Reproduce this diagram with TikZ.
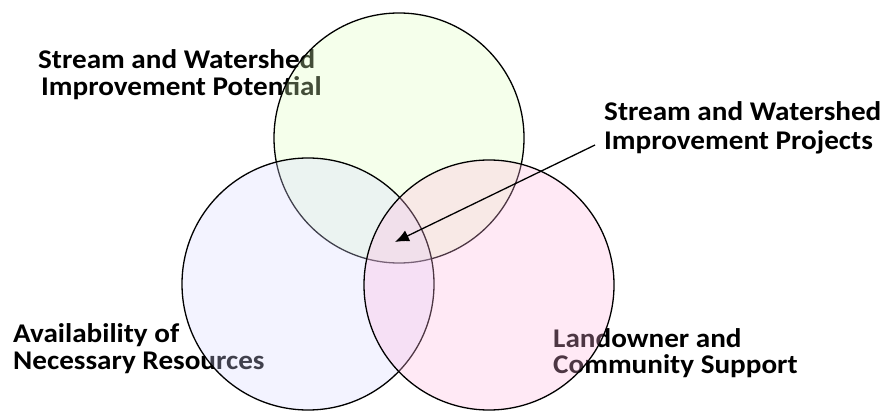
\documentclass[tikz,border=0pt]{standalone}
\usepackage{fontspec}
\setmainfont{Carlito}
\usetikzlibrary{arrows.meta}
\newcommand{\wide}[1]{\scalebox{1.08}[1]{#1}}
\begin{document}
\begin{tikzpicture}[x=1pt,y=-1pt,
  lbl/.style={font=\bfseries\fontsize{27}{27}\selectfont, inner sep=0pt, anchor=base west},
  ring/.style={draw=black, line width=1.3pt, fill opacity=0.3}]
\definecolor{cgreen}{RGB}{222,255,188}
\definecolor{cblue}{RGB}{215,215,255}
\definecolor{cpink}{RGB}{255,182,222}
\useasboundingbox (0,0) rectangle (890,411);
\node[lbl] (pot1) at (38,69) {\wide{Stream and Watershed}};
\node[lbl] (pot2) at (41,96) {\wide{Improvement Potential}};
\node[lbl] (proj1) at (604,121) {\wide{Stream and Watershed}};
\node[lbl] (proj2) at (604,150) {\wide{Improvement Projects}};
\node[lbl] (res1) at (13,342) {\wide{Availability of}};
\node[lbl] (res2) at (13,369) {\wide{Necessary Resources}};
\node[lbl] (sup1) at (553,347) {\wide{Landowner and}};
\node[lbl] (sup2) at (553,373) {\wide{Community Support}};
\node[ring, fill=cgreen, circle, minimum size=250pt] (top) at (399,138) {};
\node[ring, fill=cblue, circle, minimum size=252pt] (left) at (308,284) {};
\node[ring, fill=cpink, circle, minimum size=250pt] (right) at (489,285) {};
\coordinate (tip) at (395,242);
\coordinate (start) at (595,145);
\draw[-{Latex[length=14pt,width=12pt]}, line width=1.3pt] (start) -- (tip);
\end{tikzpicture}
\end{document}
